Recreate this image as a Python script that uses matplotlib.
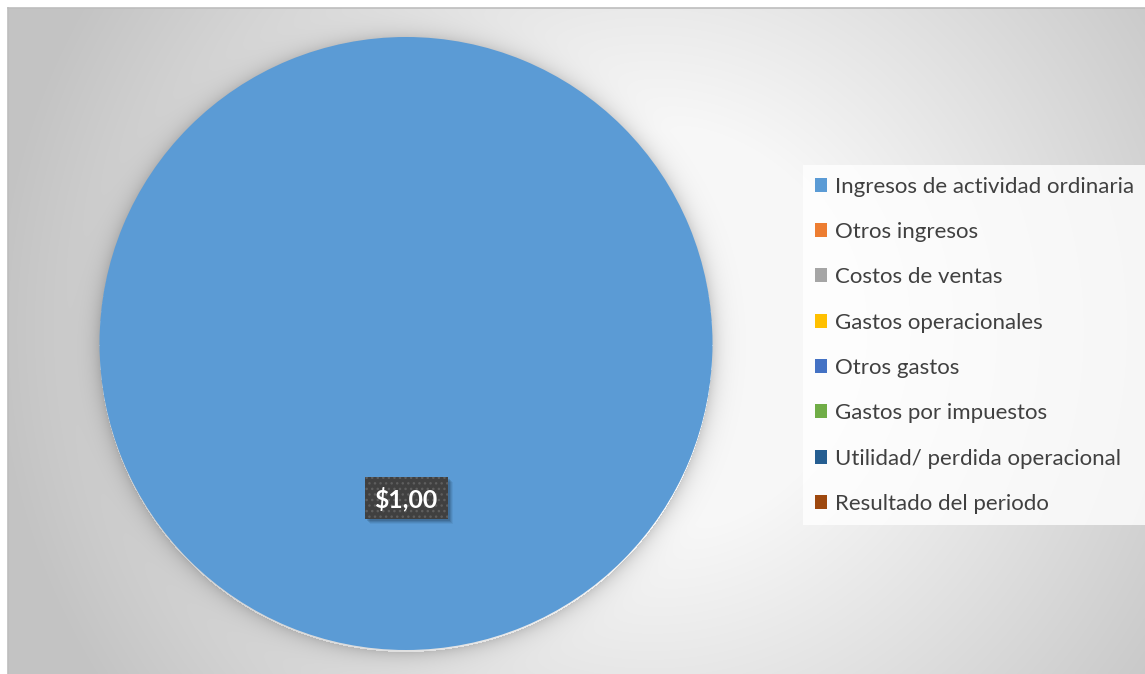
import numpy as np
import matplotlib
matplotlib.use("Agg")
import matplotlib.pyplot as plt
from matplotlib.patches import Rectangle

# Income statement items and their share of the result
categories = [
    "Ingresos de actividad ordinaria",
    "Otros ingresos",
    "Costos de ventas",
    "Gastos operacionales",
    "Otros gastos",
    "Gastos por impuestos",
    "Utilidad/ perdida operacional",
    "Resultado del periodo",
]
values = [1.00, 0.0, 0.0, 0.0, 0.0, 0.0, 0.0, 0.0]
colors = ["#5B9BD5", "#ED7D31", "#A5A5A5", "#FFC000",
          "#4472C4", "#70AD47", "#255E91", "#9E480E"]

W, H = 1145, 674
DPI = 100
plt.rcParams["font.family"] = ["Lato", "DejaVu Sans"]

fig = plt.figure(figsize=(W / DPI, H / DPI), dpi=DPI, facecolor="white")
ax = fig.add_axes([0, 0, 1, 1])

# pie geometry in pixel units
cx, cy, R = 406.0, 343.5, 306.5
frame_x0, frame_y0 = 8, 8

# radial grey background with a soft halo around the pie
yy, xx = np.mgrid[0:H, 0:W] + 0.5
r = np.hypot(xx - 650.0, yy - 330.0)
g = 0xF8 - 52 * np.clip((r - 200.0) / 450.0, 0, 1)
d = np.hypot(xx - cx, yy - (cy + 2.0)) - R
halo = np.where(d > 0, 1 - 0.17 * np.exp(-d / 9.0), 1.0)
g = g * halo / 255.0
g[:frame_y0, :] = 1.0
g[:, :frame_x0] = 1.0
bg = np.dstack([g, g, g])
ax.imshow(bg, extent=(0, W, H, 0), interpolation="bilinear", zorder=0)
ax.plot([frame_x0, W], [frame_y0, frame_y0], color="#bdbdbd", lw=1.2, zorder=1)
ax.plot([frame_x0, frame_x0], [frame_y0, H], color="#bdbdbd", lw=1.2, zorder=1)

wedges, _ = ax.pie(values, colors=colors, center=(cx, cy), radius=R,
                   startangle=-90, counterclock=True,
                   wedgeprops=dict(linewidth=0), normalize=True)
for w in wedges:
    w.set_zorder(2)

ax.set_xlim(0, W)
ax.set_ylim(H, 0)
ax.set_aspect("auto")
ax.set_position([0, 0, 1, 1])
ax.axis("off")

# data label of the only non-zero slice
w0 = wedges[0]
mid = np.deg2rad((w0.theta1 + w0.theta2) / 2.0)
lx = cx + 0.504 * R * np.cos(mid)
ly = cy + 0.504 * R * np.sin(mid)
bw, bh = 83, 42
for k, a in [(5, 0.05), (4, 0.07), (3, 0.09), (2, 0.11)]:
    ax.add_patch(Rectangle((lx - bw / 2 + k, ly - bh / 2 + k), bw, bh,
                           facecolor="black", alpha=a, lw=0, zorder=3))
ax.add_patch(Rectangle((lx - bw / 2, ly - bh / 2), bw, bh,
                       facecolor="#404040", edgecolor="#5e5e5e", lw=0,
                       hatch="...", zorder=4))
label = "$" + f"{values[0]:.2f}".replace(".", ",")
ax.text(lx, ly + 1, label, ha="center", va="center", color="white",
        fontsize=17.8, fontweight="bold", zorder=5)

# legend
handles = [Rectangle((0, 0), 1, 1, facecolor=c, lw=0) for c in colors]
leg = ax.legend(handles, categories, loc="upper left",
                bbox_to_anchor=(803 / W, 1 - 165 / H),
                bbox_transform=fig.transFigure, borderaxespad=0,
                fontsize=16, frameon=True, fancybox=False, shadow=False,
                handlelength=0.58, handleheight=0.58, handletextpad=0.36,
                labelspacing=1.14, borderpad=0.52, labelcolor="#404040")
leg.get_frame().set_facecolor((1, 1, 1, 0.45))
leg.get_frame().set_linewidth(0)
leg.set_zorder(6)

fig.savefig("out.png", dpi=DPI, facecolor="white")
